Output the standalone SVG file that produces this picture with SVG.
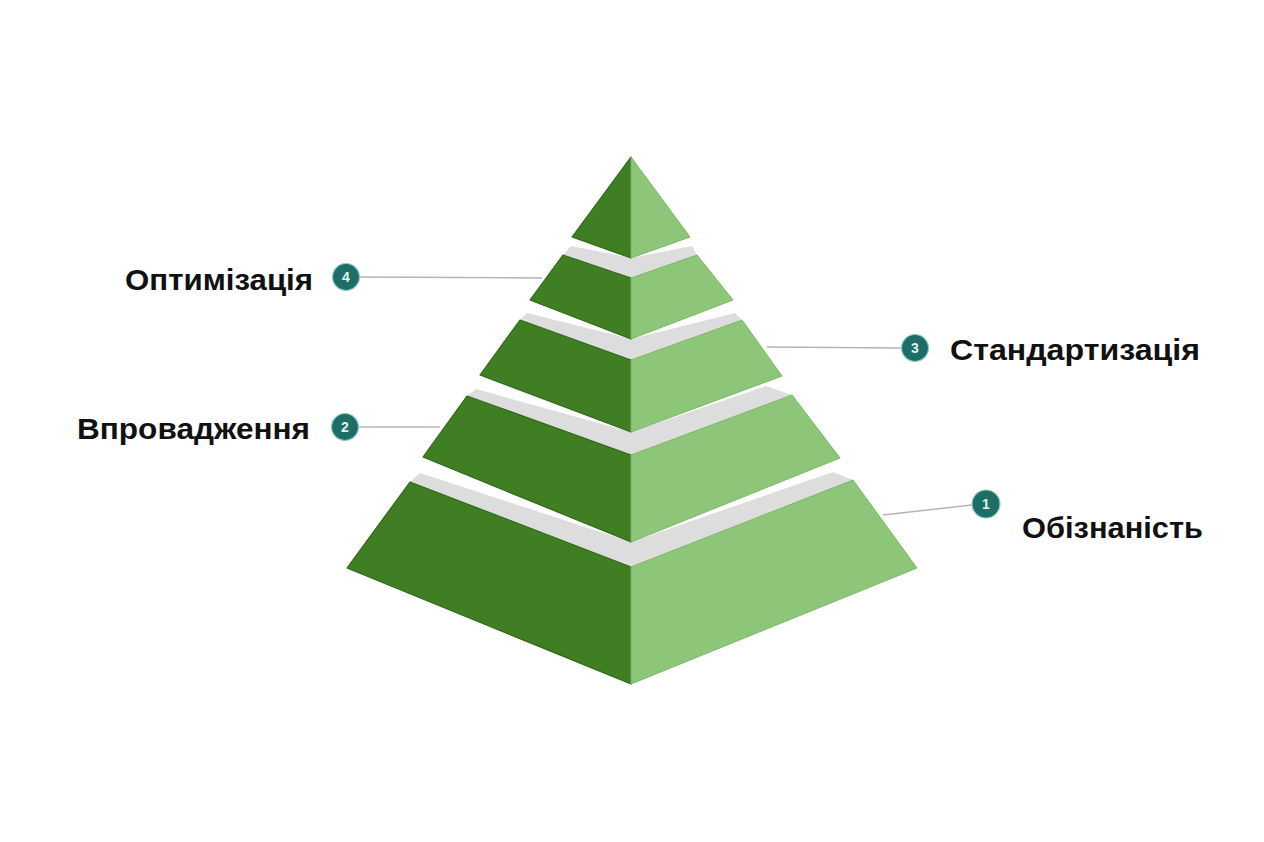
<svg xmlns="http://www.w3.org/2000/svg" width="1264" height="842" viewBox="0 0 1264 842">
<style>
.dk{fill:#3f7e22;stroke:#2f6817;stroke-width:1.2;stroke-linejoin:round}
.lt{fill:#8dc679;stroke:#7bb866;stroke-width:1;stroke-linejoin:round}
.gr{fill:#dddddd;stroke:none}
.ln{stroke:#b4b4b4;stroke-width:1.5;fill:none}
.dot{fill:#1e6d66;stroke:#8fd0c2;stroke-width:1.2}
.num{font-family:"Liberation Sans",Arial,sans-serif;font-weight:bold;font-size:14px;fill:#dff5ee;text-anchor:middle}
.lbl{font-family:"Liberation Sans",Arial,sans-serif;font-weight:bold;font-size:30px;fill:#111111}
</style>
<rect width="1264" height="842" fill="#ffffff"/>
<g id="tier5">
<polygon class="gr" points="410,482 420,473 631,542 833,472 853,480 631,567"/>
<polygon class="dk" points="410,482 631,567 631,684 347,568"/>
<polygon class="lt" points="631,567 853,480 917,568 631,684"/>
</g>
<g id="tier4">
<polygon class="gr" points="467,396 476,389 631,432 766,386 792,395 631,455"/>
<polygon class="dk" points="467,396 631,455 631,542 423,457"/>
<polygon class="lt" points="631,455 792,395 840,458 631,542"/>
</g>
<g id="tier3">
<polygon class="gr" points="520,320 527,313 631,339 735,313 742,320 631,360"/>
<polygon class="dk" points="520,320 631,360 631,432 480,375"/>
<polygon class="lt" points="631,360 742,320 782,376 631,432"/>
</g>
<g id="tier2">
<polygon class="gr" points="563,255 571,246 631,258 692,246 697,255 631,278"/>
<polygon class="dk" points="563,255 631,278 631,339 530,300"/>
<polygon class="lt" points="631,278 697,255 733,300 631,339"/>
</g>
<g id="tier1">
<polygon class="dk" points="631,157 631,258 572,237"/>
<polygon class="lt" points="631,157 690,237 631,258"/>
</g>
<g id="connectors">
<line class="ln" x1="360" y1="277" x2="542" y2="278"/>
<line class="ln" x1="359" y1="427" x2="440" y2="427"/>
<line class="ln" x1="767" y1="347" x2="901" y2="348"/>
<line class="ln" x1="883" y1="515" x2="972" y2="505"/>
</g>
<g id="label4">
<circle class="dot" cx="346" cy="277" r="13.5"/>
<text class="num" x="346" y="282">4</text>
<text class="lbl" x="313" y="290" text-anchor="end" textLength="188" lengthAdjust="spacingAndGlyphs">Оптимізація</text>
</g>
<g id="label2">
<circle class="dot" cx="345" cy="427" r="13.5"/>
<text class="num" x="345" y="432">2</text>
<text class="lbl" x="310" y="439" text-anchor="end" textLength="233" lengthAdjust="spacingAndGlyphs">Впровадження</text>
</g>
<g id="label3">
<circle class="dot" cx="915" cy="348" r="13.5"/>
<text class="num" x="915" y="353">3</text>
<text class="lbl" x="950" y="360" textLength="250" lengthAdjust="spacingAndGlyphs">Стандартизація</text>
</g>
<g id="label1">
<circle class="dot" cx="986" cy="504" r="14"/>
<text class="num" x="986" y="509">1</text>
<text class="lbl" x="1022" y="538" textLength="181" lengthAdjust="spacingAndGlyphs">Обізнаність</text>
</g>
</svg>
